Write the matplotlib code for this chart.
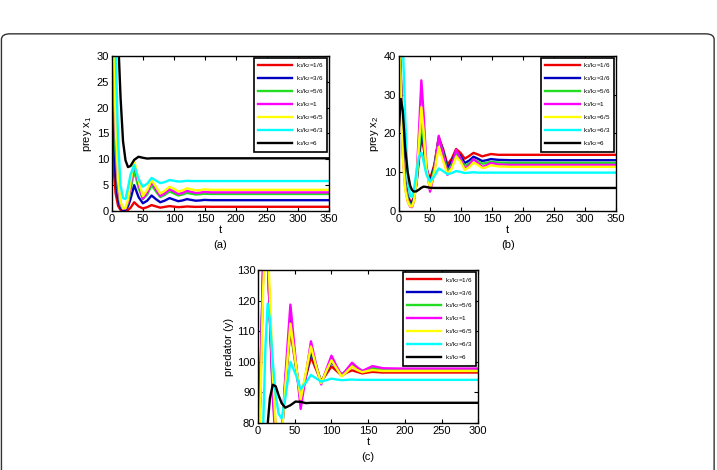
import matplotlib.pyplot as plt
from matplotlib.patches import FancyBboxPatch

plt.rcParams['font.family'] = ['Liberation Sans', 'DejaVu Sans']
plt.rcParams['mathtext.fontset'] = 'custom'
plt.rcParams['mathtext.rm'] = 'Liberation Sans'
plt.rcParams['mathtext.it'] = 'Liberation Sans'

ratios = ['1/6', '3/6', '5/6', '1', '6/5', '6/3', '6']
colors = ['#ee0000', '#0000c0', '#22dd22', '#ff00ff', '#ffff00', '#00ffff', '#000000']

# panel (a): prey x1
ta = [0, 3, 6, 10, 14, 18, 22, 26, 30, 36, 43, 50, 57, 64, 71, 78, 85, 93, 100,
      107, 114, 121, 128, 135, 142, 149, 160, 180, 350]
x1_red = [14, 8, 3.5, 1.0, 0.2, 0.05, 0.05, 0.2, 0.6, 1.7, 0.9, 0.5, 0.75, 1.15, 0.9, 0.65, 0.8,
          0.95, 0.85, 0.75, 0.8, 0.88, 0.84, 0.8, 0.82, 0.84, 0.82, 0.82, 0.82]
x1_blue = [23.7, 14, 6.5, 2.2, 0.6, 0.2, 0.3, 0.9, 2.3, 5.0, 2.7, 1.5, 2.0, 3.0, 2.3, 1.7, 2.0,
           2.5, 2.2, 1.9, 2.05, 2.3, 2.15, 2.0, 2.05, 2.15, 2.1, 2.1, 2.1]
x1_green = [40, 26, 12, 4, 1.2, 0.4, 0.5, 1.6, 4.0, 7.8, 4.5, 2.3, 3.2, 5.0, 3.8, 2.7, 3.1,
            3.8, 3.4, 3.0, 3.2, 3.5, 3.35, 3.2, 3.25, 3.35, 3.3, 3.3, 3.3]
x1_magenta = [45, 30, 15, 5, 1.4, 0.4, 0.5, 1.8, 4.8, 9.3, 5.2, 2.4, 3.6, 5.7, 4.2, 2.9, 3.4,
              4.2, 3.8, 3.3, 3.5, 3.9, 3.7, 3.5, 3.55, 3.7, 3.6, 3.6, 3.6]
x1_yellow = [48, 33, 17, 6, 1.8, 0.5, 0.6, 2.2, 5.5, 9.8, 5.8, 2.9, 4.1, 6.0, 4.7, 3.4, 3.9,
             4.7, 4.3, 3.8, 4.0, 4.4, 4.2, 4.0, 4.05, 4.2, 4.1, 4.1, 4.1]
x1_cyan = [50, 42, 32, 14, 5, 2.5, 2.3, 4.5, 7, 8.9, 6.2, 4.7, 5.3, 6.4, 5.9, 5.4, 5.6,
           6.0, 5.85, 5.7, 5.75, 5.85, 5.8, 5.8, 5.8, 5.8, 5.8, 5.8, 5.8]
x1_black = [60, 55, 45, 34, 22, 13.5, 9.8, 8.5, 8.7, 9.9, 10.5, 10.3, 10.15, 10.2, 10.2, 10.2, 10.2,
            10.2, 10.2, 10.2, 10.2, 10.2, 10.2, 10.2, 10.2, 10.2, 10.2, 10.2, 10.2]

# panel (b): prey x2
tb = [0, 3, 6, 10, 14, 18, 21, 24, 28, 32, 36, 40, 44, 50, 57, 64, 71, 78, 85, 92,
      99, 106, 113, 120, 127, 134, 141, 148, 160, 180, 350]
x2_red = [45, 35, 18, 8, 4, 2.6, 2.5, 3.5, 7, 13, 19, 16, 11, 8.2, 12, 19, 16, 12, 13.5, 16,
          15, 13.5, 14.2, 15, 14.6, 14.1, 14.4, 14.7, 14.5, 14.5, 14.5]
x2_blue = [45, 34, 17, 7.5, 3.5, 2.1, 2.0, 3.2, 7, 14, 21, 17, 11, 7.3, 11.5, 18.8, 15.5, 11, 12.8, 15.3,
           14.2, 12.4, 13, 14, 13.5, 12.9, 13.1, 13.4, 13.2, 13.1, 13.1]
x2_green = [45, 33, 16, 7, 3, 1.6, 1.5, 2.8, 7, 15, 23, 18, 11, 6.5, 11, 18.8, 15, 10, 12, 15,
            13.5, 11.6, 12.3, 13.3, 12.8, 12.2, 12.4, 12.7, 12.5, 12.4, 12.4]
x2_magenta = [45, 32, 15, 6, 2.5, 1.1, 1.0, 2.5, 8, 20, 33.7, 24, 12, 5, 10, 19.4, 14.5, 9.3, 11.5, 15.8,
              13.5, 10.8, 11.8, 13.4, 12.4, 11.4, 11.8, 12.4, 12.0, 11.9, 11.9]
x2_yellow = [45, 31, 14, 5.5, 2.5, 1.2, 1.2, 2.5, 7.5, 17, 26.8, 20, 11, 5.8, 10, 16.5, 13, 9.5, 11, 14,
             12.8, 10.6, 11.3, 12.5, 11.9, 11.1, 11.3, 11.8, 11.5, 11.4, 11.4]
x2_cyan = [50, 48, 44, 24, 8, 3.8, 3.7, 5.5, 10, 14, 15.1, 12.5, 9.5, 7.6, 9, 11, 10.3, 9.5, 9.8, 10.3,
           10.1, 9.8, 9.9, 10, 9.9, 9.9, 9.9, 9.9, 9.9, 9.9, 9.9]
x2_black = [22, 28.9, 26, 16, 10, 6.5, 5.4, 5.0, 5.1, 5.5, 6.0, 6.3, 6.2, 6.0, 5.95, 5.95, 5.95, 5.95, 5.95, 5.95,
            5.95, 5.95, 5.95, 5.95, 5.95, 5.95, 5.95, 5.95, 5.95, 5.95, 5.95]

# panel (c): predator y
tc = [0, 4, 7, 10, 13, 16, 20, 24, 28, 32, 37, 44, 51, 58, 65, 72, 79, 86, 93, 100,
      107, 114, 121, 128, 135, 142, 149, 156, 170, 190, 300]
y_red = [60, 100, 130, 142, 135, 115, 92, 78, 72, 76, 92, 110.3, 99, 88.5, 95, 101.5, 97.5, 93.5, 96, 98.5,
         97, 95.5, 96.5, 97.2, 96.7, 96.2, 96.5, 96.7, 96.5, 96.5, 96.5]
y_blue = [60, 102, 132, 143, 136, 115, 91, 77, 71, 75, 93, 113.5, 100, 87, 95.5, 103.5, 98.5, 93.5, 96.8, 100,
          97.8, 95.8, 97.2, 98.5, 97.5, 96.8, 97.2, 97.6, 97.3, 97.3, 97.3]
y_green = [60, 103, 133, 144, 136, 114, 90, 76, 70, 75, 94, 112, 99.5, 87.5, 96, 105, 99, 93, 97, 101,
           98, 95.5, 97.3, 99, 97.8, 97, 97.5, 98, 97.6, 97.6, 97.6]
y_magenta = [58, 104, 134, 145, 137, 114, 88, 74, 69, 74, 95, 118.7, 101, 84.6, 95.5, 106.7, 99, 92.6, 97.5, 102,
             98.5, 95.5, 97.6, 99.7, 98.2, 97, 97.8, 98.6, 97.9, 97.8, 97.8]
y_yellow = [58, 95, 125, 140, 139, 122, 96, 79, 72, 75, 92, 112.5, 100, 87.8, 96.5, 105, 98.5, 93, 97, 100.5,
            97.8, 95.2, 96.8, 98.5, 97.3, 96.6, 97, 97.3, 97, 97, 97]
y_cyan = [60, 70, 80, 105, 119, 114, 100, 89, 83, 81.5, 88, 100, 96, 91.1, 93.2, 95.7, 94.6, 93.5, 94, 94.5,
          94.2, 94, 94.1, 94.2, 94.1, 94.1, 94.1, 94.1, 94.1, 94.1, 94.1]
y_black = [50, 55, 62, 70, 79.5, 88, 92.5, 92, 89, 86.5, 85, 85.8, 87, 86.9, 86.5, 86.6, 86.6, 86.6, 86.6, 86.6,
           86.6, 86.6, 86.6, 86.6, 86.6, 86.6, 86.6, 86.6, 86.6, 86.6, 86.6]

panels = [
    ([0.156, 0.551, 0.303, 0.330], ta, [x1_red, x1_blue, x1_green, x1_magenta, x1_yellow, x1_cyan, x1_black],
     'prey x$_1$', (0, 350), (0, 30), range(0, 351, 50), range(0, 31, 5), '(a)'),
    ([0.5565, 0.551, 0.303, 0.330], tb, [x2_red, x2_blue, x2_green, x2_magenta, x2_yellow, x2_cyan, x2_black],
     'prey x$_2$', (0, 350), (0, 40), range(0, 351, 50), range(0, 41, 10), '(b)'),
    ([0.360, 0.100, 0.307, 0.3255], tc, [y_red, y_blue, y_green, y_magenta, y_yellow, y_cyan, y_black],
     'predator (y)', (0, 300), (80, 130), range(0, 301, 50), range(80, 131, 10), '(c)'),
]

fig = plt.figure(figsize=(7.17, 4.70), dpi=100)

# rounded outer frame
frame = FancyBboxPatch((0.002, -0.1), 0.994, 1.028, boxstyle='round,pad=0,rounding_size=0.012',
                       transform=fig.transFigure, fill=False, edgecolor='#333333', linewidth=1.0)
fig.patches.append(frame)

for rect, t, series, ylab, xl, yl, xt, yt, tag in panels:
    ax = fig.add_axes(rect)
    for vals, c, r in zip(series, colors, ratios):
        ax.plot(t, vals, color=c, linewidth=1.7, label='k$_1$/k$_2$=' + r)
    ax.set_xlim(*xl)
    ax.set_ylim(*yl)
    ax.set_xticks(list(xt))
    ax.set_yticks(list(yt))
    ax.tick_params(direction='in', top=True, right=True, length=3, labelsize=8, pad=2)
    for s in ax.spines.values():
        s.set_linewidth(1.0)
    ax.set_xlabel('t', fontsize=8, labelpad=1)
    ax.set_ylabel(ylab, fontsize=8, labelpad=2)
    ax.text(0.5, -0.19, tag, transform=ax.transAxes, ha='center', va='top', fontsize=8)
    leg = ax.legend(loc='upper right', fontsize=4.5, handlelength=5.5, labelspacing=0.65,
                    borderaxespad=0.3, fancybox=False, framealpha=1, handletextpad=0.6,
                    borderpad=0.6)
    leg.get_frame().set_edgecolor('black')
    leg.get_frame().set_linewidth(1.2)

plt.savefig('out.png', dpi=100)
